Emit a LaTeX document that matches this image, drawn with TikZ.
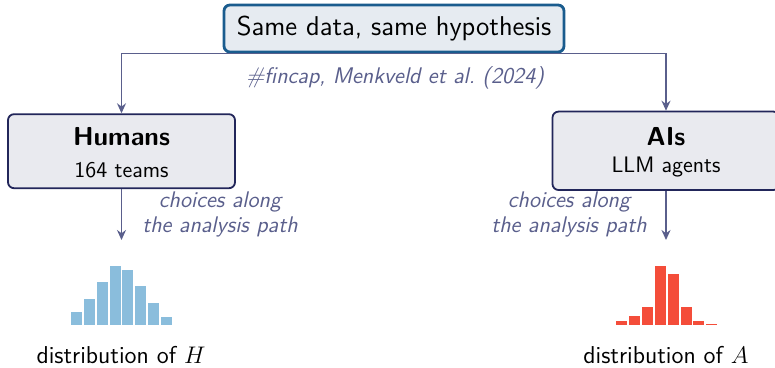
\documentclass[tikz,border=0pt]{standalone}
\usetikzlibrary{arrows.meta}
\definecolor{topborder}{HTML}{1A5C8E}
\definecolor{topfill}{HTML}{E6EBF1}
\definecolor{boxborder}{HTML}{22265A}
\definecolor{boxfill}{HTML}{E9EAEF}
\definecolor{conn}{HTML}{5A5F8C}
\definecolor{hblue}{HTML}{8ABDDC}
\definecolor{ared}{HTML}{F44D3A}
\begin{document}
\begin{tikzpicture}[x=0.5pt,y=-0.5pt,font=\sffamily,
  topbox/.style={draw=topborder,fill=topfill,line width=1.4pt,rounded corners=3pt,minimum width=170pt,minimum height=23.5pt,inner sep=0pt},
  agentbox/.style={draw=boxborder,fill=boxfill,line width=0.9pt,rounded corners=3pt,minimum width=113.5pt,inner sep=0pt},
  connarrow/.style={draw=conn,line width=0.75pt,-{Stealth[length=5pt,width=4.5pt]}},
  note/.style={text=conn,font=\sffamily\itshape\fontsize{11.3}{12.5}\selectfont,align=center,inner sep=0pt},
  big/.style={font=\sffamily\fontsize{13.6}{15}\selectfont,inner sep=0pt},
  bigb/.style={font=\sffamily\bfseries\fontsize{13}{15}\selectfont,inner sep=0pt},
  small/.style={font=\sffamily\fontsize{11.2}{13}\selectfont,inner sep=0pt},
  lab/.style={font=\sffamily\fontsize{12.2}{14}\selectfont,inner sep=0pt}]
\useasboundingbox (0,0) rectangle (775,368);
\node[topbox] (top) at (394,28.5) {};
\node[big] (toptext) at (394,29) {Same data, same hypothesis};
\node[agentbox,minimum height=37pt] (humans) at (121.5,151.2) {};
\node[agentbox,minimum height=39.2pt] (ais) at (666,150.8) {};
\node[bigb] (humanstitle) at (121.5,137) {Humans};
\node[small] (humanssub) at (121.5,170) {164 teams};
\node[bigb] (aistitle) at (666,137) {AIs};
\node[small] (aissub) at (666,167) {LLM agents};
\node[note] (cite) at (395,78) {\#fincap, Menkveld et al.\ (2024)};
\draw[connarrow] (top.south) -| (humans.north);
\draw[connarrow] (top.south) -| (ais.north);
\coordinate (hend) at (121.5,240);
\coordinate (aend) at (666,240);
\draw[connarrow] (humans.south) -- (hend);
\draw[connarrow] (ais.south) -- (aend);
\node[note] (hnote) at (220,214.5) {choices along\\the analysis path};
\node[note] (anote) at (569,214.5) {choices along\\the analysis path};
\foreach \h [count=\i from 0] in {13,26,43,59,55,39,22,8}
  \fill[hblue] ({71+12.85*\i},325) rectangle ++(11,-\h);
\foreach \h [count=\i from 0] in {4.5,9,18,59,51,18,4.5,1}
  \fill[ared] ({616+12.9*\i},325) rectangle ++(11,-\h);
\node[lab] (hlab) at (121,355) {distribution of $H$};
\node[lab] (alab) at (666,355) {distribution of $A$};
\end{tikzpicture}
\end{document}
